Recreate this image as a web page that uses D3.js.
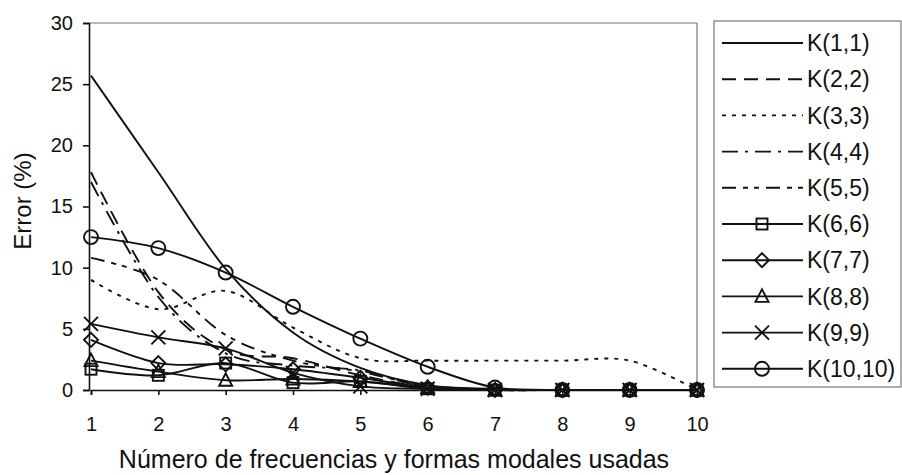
<!DOCTYPE html>
<html><head><meta charset="utf-8">
<script src="https://cdn.jsdelivr.net/npm/d3@7"></script>
<style>body{margin:0;background:#fff}svg{display:block;font-family:"Liberation Sans",Arial,sans-serif}</style>
</head><body><svg id="c" width="902" height="475"></svg>
<script>
const xValues = [1,2,3,4,5,6,7,8,9,10];
const yTicks = [0,5,10,15,20,25,30];
const seriesNames = ["K(1,1)","K(2,2)","K(3,3)","K(4,4)","K(5,5)","K(6,6)","K(7,7)","K(8,8)","K(9,9)","K(10,10)"];
const k1  = [25.7, 17.8, 9.9, 4.7, 1.8, 0.4, 0.1, 0, 0, 0];
const k2  = [17.8, 8.0, 3.3, 2.6, 1.2, 0.2, 0, 0, 0, 0];
const k3  = [9.0, 6.6, 8.1, 5.1, 2.6, 2.4, 2.4, 2.4, 2.4, 0];
const k4  = [17.0, 7.6, 3.0, 2.0, 1.6, 0.2, 0, 0, 0, 0];
const k5  = [10.8, 9.0, 4.5, 2.4, 1.5, 0.3, 0, 0, 0, 0];
const k6  = [1.7, 1.2, 2.2, 0.6, 0.7, 0.1, 0, 0, 0, 0];
const k7  = [4.1, 2.2, 2.1, 1.7, 1.0, 0.2, 0, 0, 0, 0];
const k8  = [2.4, 1.5, 0.8, 0.9, 0.7, 0.2, 0, 0, 0, 0];
const k9  = [5.4, 4.3, 3.4, 1.4, 0.3, 0.1, 0, 0, 0, 0];
const k10 = [12.5, 11.6, 9.6, 6.8, 4.2, 1.9, 0.2, 0, 0, 0];
const xTitle = "Número de frecuencias y formas modales usadas";
const yTitle = "Error (%)";

const values = [k1,k2,k3,k4,k5,k6,k7,k8,k9,k10];
const dashes = [null,"14,8","4,6","16,7,3,7","14,7,5,6,5,7",null,null,null,null,null];
const markers = [null,null,null,null,null,"square","diamond","triangle","x","circle"];

const svg = d3.select("#c");
const x = d3.scaleLinear().domain([1,10]).range([91,697]);
const y = d3.scaleLinear().domain([0,30]).range([390,23]);

// frame
svg.append("line").attr("x1",89).attr("x2",697).attr("y1",23).attr("y2",23).attr("stroke","#777").attr("stroke-width",1.2);
svg.append("line").attr("x1",697).attr("x2",697).attr("y1",23).attr("y2",390).attr("stroke","#777").attr("stroke-width",1.2);

const yAxis = svg.append("g").attr("transform","translate(89,0)")
  .call(d3.axisLeft(y).tickValues(yTicks).tickSize(6).tickPadding(10));
const xAxis = svg.append("g").attr("transform","translate(0,390)")
  .call(d3.axisBottom(x).tickValues(xValues).tickSize(5).tickPadding(22));
[yAxis,xAxis].forEach(a=>{
  a.selectAll("path,line").attr("stroke","#111").attr("stroke-width",1.6);
  a.selectAll("text").attr("font-size",20).attr("fill","#111").attr("font-family","Liberation Sans, Arial, sans-serif");
});

svg.append("text").attr("x",394).attr("y",468).attr("text-anchor","middle")
  .attr("font-size",25).attr("fill","#111").text(xTitle);
svg.append("text").attr("transform","translate(31,201) rotate(-90)").attr("text-anchor","middle")
  .attr("font-size",24).attr("fill","#111").text(yTitle);

const line = d3.line().x((d,i)=>x(xValues[i])).y(d=>y(d)).curve(d3.curveCardinal.tension(0));

function drawMarker(g, type, cx, cy){
  const s = {stroke:"#111","stroke-width":1.9,fill:"none"};
  let m;
  if(type==="circle") m = g.append("circle").attr("cx",cx).attr("cy",cy).attr("r",7);
  else if(type==="square") m = g.append("rect").attr("x",cx-5.5).attr("y",cy-5.5).attr("width",11).attr("height",11);
  else if(type==="diamond") m = g.append("path").attr("d",`M${cx},${cy-7}L${cx+7},${cy}L${cx},${cy+7}L${cx-7},${cy}Z`);
  else if(type==="triangle") m = g.append("path").attr("d",`M${cx},${cy-7}L${cx+6.5},${cy+5.5}L${cx-6.5},${cy+5.5}Z`);
  else if(type==="x") m = g.append("path").attr("d",`M${cx-7},${cy-7}L${cx+7},${cy+7}M${cx+7},${cy-7}L${cx-7},${cy+7}`);
  Object.entries(s).forEach(([k,v])=>m.attr(k,v));
}

const plot = svg.append("g");
values.forEach((vals,i)=>{
  const p = plot.append("path").attr("d",line(vals)).attr("fill","none").attr("stroke","#111").attr("stroke-width",1.9);
  if(dashes[i]) p.attr("stroke-dasharray",dashes[i]);
});
values.forEach((vals,i)=>{
  if(!markers[i]) return;
  vals.forEach((v,j)=>drawMarker(plot, markers[i], x(xValues[j]), y(v)));
});

// legend
const lg = svg.append("g");
lg.append("rect").attr("x",714).attr("y",21).attr("width",187).attr("height",366)
  .attr("fill","#fff").attr("stroke","#777").attr("stroke-width",1.2);
seriesNames.forEach((name,i)=>{
  const cy = 43 + i*36.2;
  const l = lg.append("line").attr("x1",722).attr("x2",803).attr("y1",cy).attr("y2",cy)
    .attr("stroke","#111").attr("stroke-width",1.9);
  if(dashes[i]) l.attr("stroke-dasharray",dashes[i]);
  if(markers[i]) drawMarker(lg, markers[i], 762, cy);
  lg.append("text").attr("x",807).attr("y",cy).attr("dy","0.36em").attr("font-size",23).attr("fill","#111").text(name);
});
</script></body></html>
